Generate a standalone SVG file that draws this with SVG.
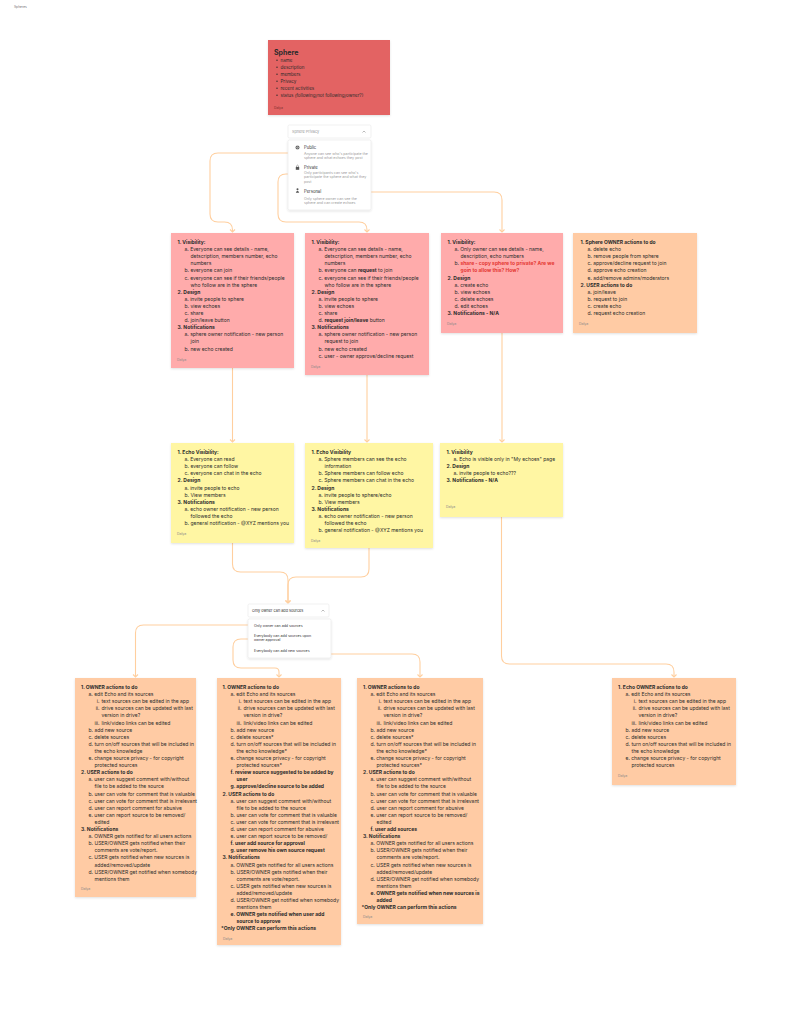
<svg xmlns="http://www.w3.org/2000/svg" width="787" height="1024" viewBox="0 0 787 1024">
<defs>
<style>
text{font-family:Inter,"Noto Sans","Liberation Sans",sans-serif}
.note text{font-size:5px;fill:#2b2b2b}
.b{font-weight:700}
.au{font-size:3.5px!important;fill:#8a8a8a!important}
.r{text-anchor:end}
.red{fill:#e53935!important;font-weight:700}
.pink{fill:#ffabab}
.orange{fill:#ffcba4}
.yellow{fill:#fff6a3}
.dd{fill:#ffffff;stroke:#e8e8e8;stroke-width:0.6}
.ddt{font-size:3.6px;fill:#333}
.ddd{font-size:3.6px;fill:#9a9a9a}
</style>
<filter id="sh" x="-10%" y="-10%" width="120%" height="120%">
<feDropShadow dx="0" dy="1" stdDeviation="1" flood-color="#000" flood-opacity="0.12"/>
</filter>
<marker id="arr" viewBox="-4 -4 8 8" markerWidth="8" markerHeight="8" refX="0" refY="0" orient="auto" markerUnits="userSpaceOnUse">
<path d="M-2.5,-2.5 L0,0 L-2.5,2.5" fill="none" stroke="#ffcf9f" stroke-width="1.1"/>
</marker>
</defs>
<rect width="787" height="1024" fill="#ffffff"/>
<text x="14" y="7.5" font-size="3.3" fill="#777">Spheres</text>

<g id="connectors" fill="none" stroke="#ffcf9f" stroke-width="1.1" marker-end="url(#arr)">
<path d="M288,153 H218 Q210,153 210,161 V214 Q210,222 218,222 H224.5 Q232.5,222 232.5,230 V232"/>
<path d="M288,174 H286 Q278,174 278,182 V214 Q278,222 286,222 H359 Q367,222 367,230 V232"/>
<path d="M371,192 H494 Q502,192 502,200 V232"/>
<path d="M232.5,368 V442"/>
<path d="M367,375 V442"/>
<path d="M502,333 V442"/>
<path d="M232.5,543 V564 Q232.5,572 240.5,572 H280 Q288,572 288,580 V603"/>
<path d="M369,548 V569 Q369,577 361,577 H296 Q288,577 288,585 V603"/>
<path d="M248,625 H143.5 Q135.5,625 135.5,633 V677"/>
<path d="M248,639 H241 Q233,639 233,647 V660 Q233,668 241,668 H275 Q279,668 279,672 V677"/>
<path d="M331,654 H412 Q420,654 420,662 V677"/>
<path d="M501.5,517 V656 Q501.5,664 509.5,664 H666 Q674,664 674,672 V677"/>
</g>

<g id="sphere">
<rect x="268" y="40" width="122" height="75" fill="#e36464" filter="url(#sh)"/>
<text x="274" y="55" font-size="7" font-weight="700" fill="#2b2b2b">Sphere</text>
<g fill="#2b2b2b">
<circle cx="277" cy="60.2" r="0.7"/><circle cx="277" cy="67.2" r="0.7"/><circle cx="277" cy="74.2" r="0.7"/><circle cx="277" cy="81.2" r="0.7"/><circle cx="277" cy="88.2" r="0.7"/><circle cx="277" cy="95.2" r="0.7"/>
</g>
<g font-size="4.5" fill="#2b2b2b">
<text x="280.5" y="61.8">name</text>
<text x="280.5" y="68.8">description</text>
<text x="280.5" y="75.8">members</text>
<text x="280.5" y="82.8">Privacy</text>
<text x="280.5" y="89.8">recent activities</text>
<text x="280.5" y="96.8">status (following/not following/owner?)</text>
</g>
<text x="274" y="108.5" font-size="3.3" fill="#7a3030">Dalya</text>
</g>

<g id="sphere-privacy">
<rect class="dd" x="288" y="125" width="83" height="13" rx="1.5"/>
<text x="292" y="133.2" font-size="3.8" fill="#999">Sphere Privacy</text>
<path d="M362.5,132.5 L364,131 L365.5,132.5" fill="none" stroke="#777" stroke-width="0.5"/>
<rect class="dd" x="288" y="140" width="83" height="70" rx="1.5" filter="url(#sh)"/>
<circle cx="297.5" cy="147.5" r="2" fill="#555"/>
<path d="M295.5,147.5 H299.5 M297.5,145.5 Q296,147.5 297.5,149.5 Q299,147.5 297.5,145.5" stroke="#fff" stroke-width="0.3" fill="none"/>
<text x="304" y="149" font-size="4.2" fill="#333">Public</text>
<text class="ddd" x="304" y="154.8">Anyone can see who's participate the</text>
<text class="ddd" x="304" y="159.1">sphere and what echoes they post</text>
<rect x="295.8" y="167" width="3.4" height="2.8" fill="#555"/>
<path d="M296.6,167 V165.8 Q297.5,164.4 298.4,165.8 V167" stroke="#555" stroke-width="0.5" fill="none"/>
<text x="304" y="168.6" font-size="4.2" fill="#333">Private</text>
<text class="ddd" x="304" y="174.2">Only participants can see who's</text>
<text class="ddd" x="304" y="178.4">participate the sphere and what they</text>
<text class="ddd" x="304" y="182.6">post</text>
<circle cx="297.5" cy="189.3" r="1" fill="#555"/>
<path d="M295.8,192.8 Q297.5,188.8 299.2,192.8 Z" fill="#555"/>
<text x="304" y="192.6" font-size="4.2" fill="#333">Personal</text>
<text class="ddd" x="304" y="199.6">Only sphere owner can see the</text>
<text class="ddd" x="304" y="203.9">sphere and can create echoes</text>
</g>

<g id="sources-dropdown">
<rect class="dd" x="248" y="604" width="81" height="13" rx="1.5"/>
<text x="252" y="612.2" font-size="3.8" fill="#333">Only owner can add sources</text>
<path d="M321.5,611.5 L323,610 L324.5,611.5" fill="none" stroke="#777" stroke-width="0.5"/>
<rect class="dd" x="248" y="619" width="83" height="39" rx="1.5" filter="url(#sh)"/>
<text class="ddt" x="254" y="626.5">Only owner can add sources</text>
<text class="ddt" x="254" y="636.5">Everybody can add sources upon</text>
<text class="ddt" x="254" y="641">owner approval</text>
<text class="ddt" x="254" y="652">Everybody can add new sources</text>
</g>

<g id="public-sphere" class="note" transform="translate(171,233)">
<rect class="pink" width="123" height="135" filter="url(#sh)"/>
<text class="b" x="6.5" y="11">1. Visibility:</text>
<text x="13.5" y="18.1">a. Everyone can see details - name,</text>
<text x="19.5" y="25.2">detscription, members number, echo</text>
<text x="19.5" y="32.3">numbers</text>
<text x="13.5" y="39.4">b. everyone can join</text>
<text x="13.5" y="46.5">c. everyone can see if their friends/people</text>
<text x="19.5" y="53.6">who follow are in the sphere</text>
<text class="b" x="6.5" y="60.7">2. Design</text>
<text x="13.5" y="67.8">a. invite people to sphere</text>
<text x="13.5" y="74.9">b. view echoes</text>
<text x="13.5" y="82">c. share</text>
<text x="13.5" y="89.1">d. join/leave button</text>
<text class="b" x="6.5" y="96.2">3. Notifications</text>
<text x="13.5" y="103.3">a. sphere owner notification - new person</text>
<text x="19.5" y="110.4">join</text>
<text x="13.5" y="117.5">b. new echo created</text>
<text class="au" x="6" y="127.5">Dalya</text>
</g>

<g id="private-sphere" class="note" transform="translate(305,233)">
<rect class="pink" width="124" height="142" filter="url(#sh)"/>
<text class="b" x="6.5" y="11">1. Visibility:</text>
<text x="13.5" y="18.1">a. Everyone can see details - name,</text>
<text x="19.5" y="25.2">detscription, members number, echo</text>
<text x="19.5" y="32.3">numbers</text>
<text x="13.5" y="39.4">b. everyone can <tspan class="b">request</tspan> to join</text>
<text x="13.5" y="46.5">c. everyone can see if their friends/people</text>
<text x="19.5" y="53.6">who follow are in the sphere</text>
<text class="b" x="6.5" y="60.7">2. Design</text>
<text x="13.5" y="67.8">a. invite people to sphere</text>
<text x="13.5" y="74.9">b. view echoes</text>
<text x="13.5" y="82">c. share</text>
<text x="13.5" y="89.1">d. <tspan class="b">request join/leave</tspan> button</text>
<text class="b" x="6.5" y="96.2">3. Notifications</text>
<text x="13.5" y="103.3">a. sphere owner notification - new person</text>
<text x="19.5" y="110.4">request to join</text>
<text x="13.5" y="117.5">b. new echo created</text>
<text x="13.5" y="124.6">c. user - owner approve/decline request</text>
<text class="au" x="6" y="134.5">Dalya</text>
</g>

<g id="personal-sphere" class="note" transform="translate(441,233)">
<rect class="pink" width="122" height="100" filter="url(#sh)"/>
<text class="b" x="6.5" y="11">1. Visibility:</text>
<text x="13.5" y="18.1">a. Only owner can see details - name,</text>
<text x="19.5" y="25.2">description, echo numbers</text>
<text x="13.5" y="32.3">b. <tspan class="red">share - copy sphere to private? Are we</tspan></text>
<text class="red" x="19.5" y="39.4">goin to allow this? How?</text>
<text class="b" x="6.5" y="46.5">2. Design</text>
<text x="13.5" y="53.6">a. create echo</text>
<text x="13.5" y="60.7">b. view echoes</text>
<text x="13.5" y="67.8">c. delete echoes</text>
<text x="13.5" y="74.9">d. edit echoes</text>
<text class="b" x="6.5" y="82">3. Notifications - N/A</text>
<text class="au" x="6" y="92">Dalya</text>
</g>

<g id="sphere-actions" class="note" transform="translate(573,233)">
<rect class="orange" width="124" height="100" filter="url(#sh)"/>
<text class="b" x="7.5" y="11">1. Sphere OWNER actions to do</text>
<text x="14.5" y="18.1">a. delete echo</text>
<text x="14.5" y="25.2">b. remove people from sphere</text>
<text x="14.5" y="32.3">c. approve/decline request to join</text>
<text x="14.5" y="39.4">d. approve echo creation</text>
<text x="14.5" y="46.5">e. add/remove admins/moderators</text>
<text class="b" x="7.5" y="53.6">2. USER actions to  do</text>
<text x="14.5" y="60.7">a. join/leave</text>
<text x="14.5" y="67.8">b. request to join</text>
<text x="14.5" y="74.9">c. create echo</text>
<text x="14.5" y="82">d. request echo creation</text>
<text class="au" x="6" y="92">Dalya</text>
</g>

<g id="public-echo" class="note" transform="translate(171,443)">
<rect class="yellow" width="123" height="100" filter="url(#sh)"/>
<text class="b" x="6.5" y="11">1. Echo Visibility:</text>
<text x="13.5" y="18.1">a. Everyone can read</text>
<text x="13.5" y="25.2">b. everyone can follow</text>
<text x="13.5" y="32.3">c. everyone can chat in the echo</text>
<text class="b" x="6.5" y="39.4">2. Design</text>
<text x="13.5" y="46.5">a. invite people to echo</text>
<text x="13.5" y="53.6">b. View members</text>
<text class="b" x="6.5" y="60.7">3. Notifications</text>
<text x="13.5" y="67.8">a. echo owner notification - new person</text>
<text x="19.5" y="74.9">followed the echo</text>
<text x="13.5" y="82">b. general notification - @XYZ mentions you</text>
<text class="au" x="6" y="92">Dalya</text>
</g>

<g id="private-echo" class="note" transform="translate(305,443)">
<rect class="yellow" width="128" height="105" filter="url(#sh)"/>
<text class="b" x="6.5" y="11">1. Echo Visibility</text>
<text x="13.5" y="18.1">a. Sphere members can see the echo</text>
<text x="19.5" y="25.2">information</text>
<text x="13.5" y="32.3">b. Sphere members can follow echo</text>
<text x="13.5" y="39.4">c. Sphere members can chat in the echo</text>
<text class="b" x="6.5" y="46.5">2. Design</text>
<text x="13.5" y="53.6">a. invite people to sphere/echo</text>
<text x="13.5" y="60.7">b. View members</text>
<text class="b" x="6.5" y="67.8">3. Notifications</text>
<text x="13.5" y="74.9">a. echo owner notification - new person</text>
<text x="19.5" y="82">followed the echo</text>
<text x="13.5" y="89.1">b. general notification - @XYZ mentions you</text>
<text class="au" x="6" y="99">Dalya</text>
</g>

<g id="personal-echo" class="note" transform="translate(440,443)">
<rect class="yellow" width="123" height="74" filter="url(#sh)"/>
<text class="b" x="6.5" y="11">1. Visibility</text>
<text x="13.5" y="18.1">a. Echo is visible only in "My echoes" page</text>
<text class="b" x="6.5" y="25.2">2. Design</text>
<text x="13.5" y="32.3">a. invite people to echo???</text>
<text class="b" x="6.5" y="39.4">3. Notifications - N/A</text>
<text class="au" x="6" y="64.5">Dalya</text>
</g>

<g id="owner-only-sources" class="note" transform="translate(75,678)">
<rect class="orange" width="121" height="219" filter="url(#sh)"/>
<text class="b" x="6" y="11">1. OWNER actions to do</text>
<text x="13.5" y="18.1">a. edit Echo and its sources</text>
<text class="r" x="24.5" y="25.2">i.</text><text x="26.5" y="25.2">text sources can be edited in the app</text>
<text class="r" x="24.5" y="32.3">ii.</text><text x="26.5" y="32.3">drive sources can be updated with last</text>
<text x="26.5" y="39.4">version in drive?</text>
<text class="r" x="24.5" y="46.5">iii.</text><text x="26.5" y="46.5">link/video links can be edited</text>
<text x="13.5" y="53.6">b. add new source</text>
<text x="13.5" y="60.7">c. delete sources</text>
<text x="13.5" y="67.8">d. turn on/off sources that will be included in</text>
<text x="19.5" y="74.9">the echo knowledge</text>
<text x="13.5" y="82">e. change source privacy - for copyright</text>
<text x="19.5" y="89.1">protected sources</text>
<text class="b" x="6" y="96.2">2. USER actions to  do</text>
<text x="13.5" y="103.3">a. user can suggest comment with/without</text>
<text x="19.5" y="110.4">file to be added to the source</text>
<text x="13.5" y="117.5">b. user can vote for comment that is valuable</text>
<text x="13.5" y="124.6">c. user can vote for comment that is irrelevant</text>
<text x="13.5" y="131.7">d. user can report comment for abusive</text>
<text x="13.5" y="138.8">e. user can report source to be removed/</text>
<text x="19.5" y="145.9">edited</text>
<text class="b" x="6" y="153">3. Notifications</text>
<text x="13.5" y="160.1">a. OWNER gets notified for all users actions</text>
<text x="13.5" y="167.2">b. USER/OWNER gets notified when their</text>
<text x="19.5" y="174.3">comments are vote/report.</text>
<text x="13.5" y="181.4">c. USER gets notified when new sources is</text>
<text x="19.5" y="188.5">added/removed/update</text>
<text x="13.5" y="195.6">d. USER/OWNER get notified when somebody</text>
<text x="19.5" y="202.7">mentions them</text>
<text class="au" x="6" y="212">Dalya</text>
</g>

<g id="owner-approval-sources" class="note" transform="translate(217,678)">
<rect class="orange" width="124" height="267" filter="url(#sh)"/>
<text class="b" x="5.5" y="11">1. OWNER actions to do</text>
<text x="13.5" y="18.1">a. edit Echo and its sources</text>
<text class="r" x="24.5" y="25.2">i.</text><text x="26.5" y="25.2">text sources can be edited in the app</text>
<text class="r" x="24.5" y="32.3">ii.</text><text x="26.5" y="32.3">drive sources can be updated with last</text>
<text x="26.5" y="39.4">version in drive?</text>
<text class="r" x="24.5" y="46.5">iii.</text><text x="26.5" y="46.5">link/video links can be edited</text>
<text x="13.5" y="53.6">b. add new source</text>
<text x="13.5" y="60.7">c. delete sources*</text>
<text x="13.5" y="67.8">d. turn on/off sources that will be included in</text>
<text x="19.5" y="74.9">the echo knowledge*</text>
<text x="13.5" y="82">e. change source privacy - for copyright</text>
<text x="19.5" y="89.1">protected sources*</text>
<text class="b" x="13.5" y="96.2">f. review source suggested to be added by</text>
<text class="b" x="19.5" y="103.3">user</text>
<text class="b" x="13.5" y="110.4">g. approve/decline source to be added</text>
<text class="b" x="5.5" y="117.5">2. USER actions to  do</text>
<text x="13.5" y="124.6">a. user can suggest comment with/without</text>
<text x="19.5" y="131.7">file to be added to the source</text>
<text x="13.5" y="138.8">b. user can vote for comment that is valuable</text>
<text x="13.5" y="145.9">c. user can vote for comment that is irrelevant</text>
<text x="13.5" y="153">d. user can report comment for abusive</text>
<text x="13.5" y="160.1">e. user can report source to be removed/</text>
<text class="b" x="13.5" y="167.2">f. user add source for approval</text>
<text class="b" x="13.5" y="174.3">g. user remove his own source request</text>
<text class="b" x="5.5" y="181.4">3. Notifications</text>
<text x="13.5" y="188.5">a. OWNER gets notified for all users actions</text>
<text x="13.5" y="195.6">b. USER/OWNER gets notified when their</text>
<text x="19.5" y="202.7">comments are vote/report.</text>
<text x="13.5" y="209.8">c. USER gets notified when new sources is</text>
<text x="19.5" y="216.9">added/removed/update</text>
<text x="13.5" y="224">d. USER/OWNER get notified when somebody</text>
<text x="19.5" y="231.1">mentions them</text>
<text class="b" x="13.5" y="238.2">e. OWNER gets notified when user add</text>
<text class="b" x="19.5" y="245.3">source to approve</text>
<text class="b" x="4" y="252.4">*Only OWNER can perform this actions</text>
<text class="au" x="6" y="261.5">Dalya</text>
</g>

<g id="everybody-sources" class="note" transform="translate(357,678)">
<rect class="orange" width="126" height="246" filter="url(#sh)"/>
<text class="b" x="6" y="11">1. OWNER actions to do</text>
<text x="13.5" y="18.1">a. edit Echo and its sources</text>
<text class="r" x="24.5" y="25.2">i.</text><text x="26.5" y="25.2">text sources can be edited in the app</text>
<text class="r" x="24.5" y="32.3">ii.</text><text x="26.5" y="32.3">drive sources can be updated with last</text>
<text x="26.5" y="39.4">version in drive?</text>
<text class="r" x="24.5" y="46.5">iii.</text><text x="26.5" y="46.5">link/video links can be edited</text>
<text x="13.5" y="53.6">b. add new source</text>
<text x="13.5" y="60.7">c. delete sources*</text>
<text x="13.5" y="67.8">d. turn on/off sources that will be included in</text>
<text x="19.5" y="74.9">the echo knowledge*</text>
<text x="13.5" y="82">e. change source privacy - for copyright</text>
<text x="19.5" y="89.1">protected sources*</text>
<text class="b" x="6" y="96.2">2. USER actions to do</text>
<text x="13.5" y="103.3">a. user can suggest comment with/without</text>
<text x="19.5" y="110.4">file to be added to the source</text>
<text x="13.5" y="117.5">b. user can vote for comment that is valuable</text>
<text x="13.5" y="124.6">c. user can vote for comment that is irrelevant</text>
<text x="13.5" y="131.7">d. user can report comment for abusive</text>
<text x="13.5" y="138.8">e. user can report source to be removed/</text>
<text x="19.5" y="145.9">edited</text>
<text class="b" x="13.5" y="153">f. user add sources</text>
<text class="b" x="6" y="160.1">3. Notifications</text>
<text x="13.5" y="167.2">a. OWNER gets notified for all users actions</text>
<text x="13.5" y="174.3">b. USER/OWNER gets notified when their</text>
<text x="19.5" y="181.4">comments are vote/report.</text>
<text x="13.5" y="188.5">c. USER gets notified when new sources is</text>
<text x="19.5" y="195.6">added/removed/update</text>
<text x="13.5" y="202.7">d. USER/OWNER get notified when somebody</text>
<text x="19.5" y="209.8">mentions them</text>
<text class="b" x="13.5" y="216.9">e. OWNER gets notified when new sources is</text>
<text class="b" x="19.5" y="224">added</text>
<text class="b" x="4.5" y="231.1">*Only OWNER can perform this actions</text>
<text class="au" x="6" y="240">Dalya</text>
</g>

<g id="echo-owner-actions" class="note" transform="translate(612,678)">
<rect class="orange" width="124" height="107" filter="url(#sh)"/>
<text class="b" x="6" y="11">1. Echo OWNER actions to do</text>
<text x="13.5" y="18.1">a. edit Echo and its sources</text>
<text class="r" x="24.5" y="25.2">i.</text><text x="26.5" y="25.2">text sources can be edited in the app</text>
<text class="r" x="24.5" y="32.3">ii.</text><text x="26.5" y="32.3">drive sources can be updated with last</text>
<text x="26.5" y="39.4">version in drive?</text>
<text class="r" x="24.5" y="46.5">iii.</text><text x="26.5" y="46.5">link/video links can be edited</text>
<text x="13.5" y="53.6">b. add new source</text>
<text x="13.5" y="60.7">c. delete sources</text>
<text x="13.5" y="67.8">d. turn on/off sources that will be included in</text>
<text x="19.5" y="74.9">the echo knowledge</text>
<text x="13.5" y="82">e. change source privacy - for copyright</text>
<text x="19.5" y="89.1">protected sources</text>
<text class="au" x="6" y="99">Dalya</text>
</g>
</svg>
